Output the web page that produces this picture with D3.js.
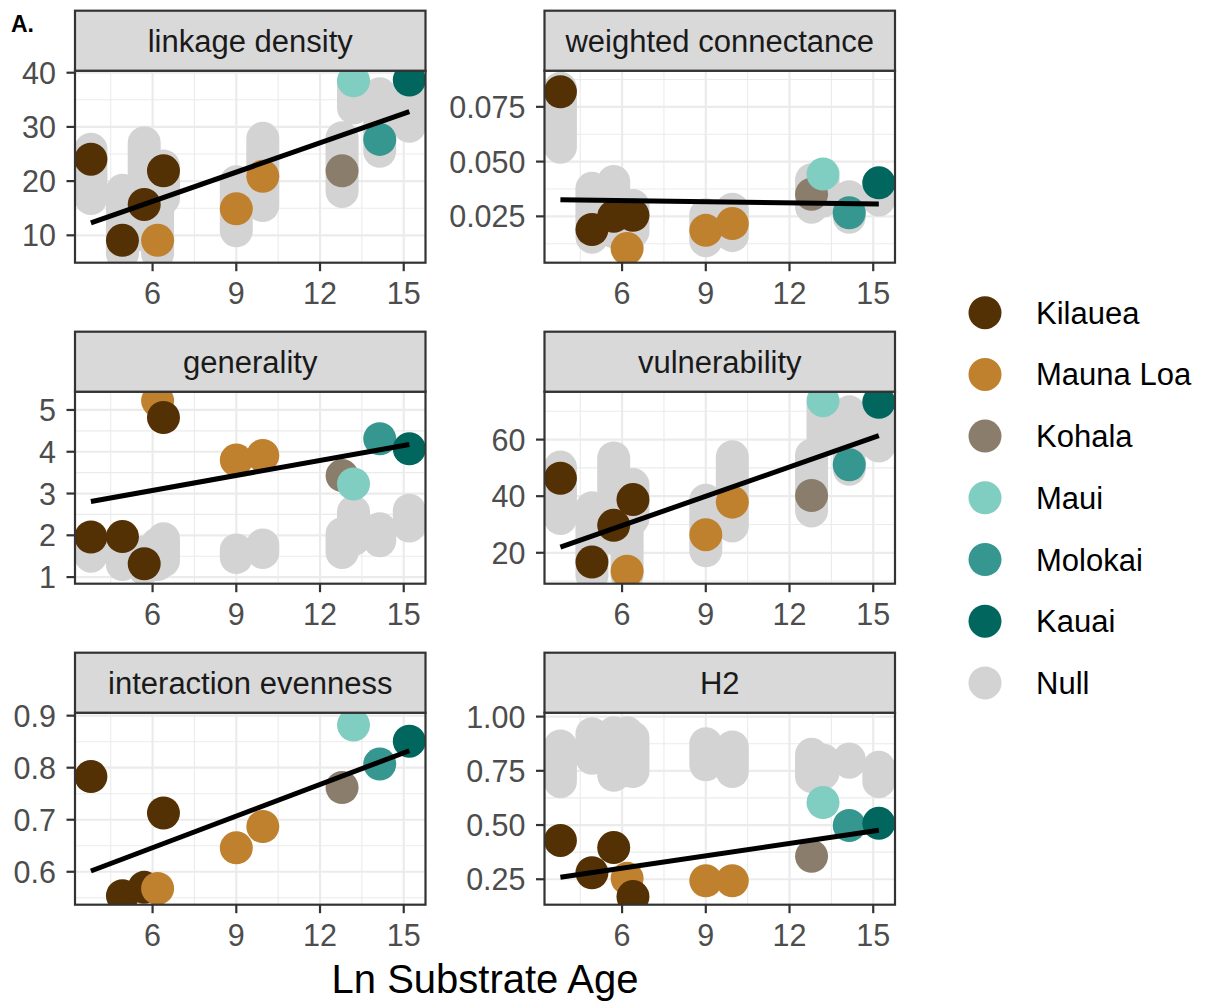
<!DOCTYPE html>
<html>
<head>
    <title>Network metrics vs substrate age</title>
    <script src="https://d3js.org/d3.v7.min.js"></script>
    <style>
        body { margin: 0; background: #fff; }
        text { font-family: "Liberation Sans", Arial, sans-serif; }
        .tick-label { font-size: 30.5px; fill: #4D4D4D; }
        .strip-label { font-size: 31px; fill: #1A1A1A; }
        .legend-label { font-size: 31px; fill: #000; }
    </style>
</head>
<body>
<script>
    // sites, ordered by ln substrate age
    var islands = ["Kilauea", "Mauna Loa", "Kohala", "Maui", "Molokai", "Kauai", "Null"];
    var islandColors = ["#543005", "#BF812D", "#8B7D6B", "#80CDC1", "#35978F", "#01665E", "#D3D3D3"];
    var siteIsland = ["Kilauea", "Kilauea", "Kilauea", "Mauna Loa", "Kilauea", "Mauna Loa", "Mauna Loa", "Kohala", "Maui", "Molokai", "Kauai"];
    var lnAge = [3.79, 4.92, 5.70, 6.18, 6.39, 9.0, 9.95, 12.79, 13.2, 14.14, 15.2];

    var metricNames = ["linkage density", "weighted connectance", "generality", "vulnerability", "interaction evenness", "H2"];

    // observed values
    var linkageDensity = [24.05, 9.07, 15.7, 9.07, 21.9, 14.9, 20.9, 21.9, 38.5, 27.7, 38.65];
    var weightedConnectance = [0.0819, 0.019, 0.025, 0.0103, 0.0255, 0.0186, 0.0217, 0.0351, 0.0443, 0.0266, 0.0403];
    var generality = [1.96, 1.97, 1.32, 5.22, 4.82, 3.80, 3.91, 3.43, 3.23, 4.31, 4.07];
    var vulnerability = [46.35, 16.7, 29.7, 13.5, 38.8, 26.4, 37.9, 40.25, 73.75, 51.1, 73.2];
    var interactionEvenness = [0.783, 0.554, 0.570, 0.568, 0.713, 0.646, 0.687, 0.762, 0.882, 0.807, 0.851];
    var h2 = [0.429, 0.280, 0.396, 0.254, 0.170, 0.243, 0.243, 0.356, 0.604, 0.498, 0.508];

    // null model ranges [low, high] per site
    var linkageNull = [[16.8, 25.9], [6.6, 18.3], [10, 27.1], [6.6, 16], [16.8, 22.8], [10.85, 19.9], [15.5, 27.9], [18.1, 28.0], [33.5, 38], [25.5, 36.1], [30.1, 38.7]];
    var connectanceNull = [[0.0566, 0.0835], [0.0155, 0.0378], [0.018, 0.0409], [0.012, 0.028], [0.018, 0.030], [0.0139, 0.0257], [0.0162, 0.0283], [0.0292, 0.0417], [0.032, 0.042], [0.0246, 0.034], [0.0325, 0.040]];
    var generalityNull = [[1.5, 1.9], [1.3, 1.9], [1.2, 1.6], [1.3, 1.8], [1.39, 1.92], [1.47, 1.65], [1.59, 1.77], [1.59, 2.04], [1.9, 2.56], [1.87, 2.16], [2.22, 2.60]];
    var vulnerabilityNull = [[32.1, 50.3], [12, 35.9], [25, 53.5], [12, 30], [32.1, 44.1], [20.7, 38.6], [29.5, 53.9], [34.8, 54.5], [60, 72], [49.5, 69.8], [57.7, 73.5]];
    var evennessNull = [];
    var h2Null = [[0.70, 0.865], [0.808, 0.921], [0.729, 0.925], [0.75, 0.925], [0.747, 0.903], [0.778, 0.875], [0.747, 0.86], [0.724, 0.826], [0.74, 0.80], [0.79, 0.804], [0.70, 0.766]];

    // axis ranges and ticks
    var xDomain = [3.22, 15.78];
    var xTicks = [6, 9, 12, 15];
    var xMinor = [4.5, 7.5, 10.5, 13.5];
    var yDomains = [[4.95, 40.37], [0.00384, 0.0915], [0.842, 5.437], [9.07, 76.93], [0.5367, 0.9057], [0.1326, 1.018]];
    var yTicks = [[10, 20, 30, 40], [0.025, 0.05, 0.075], [1, 2, 3, 4, 5], [20, 40, 60], [0.6, 0.7, 0.8, 0.9], [0.25, 0.5, 0.75, 1.0]];
    var yTickLabels = [["10", "20", "30", "40"], ["0.025", "0.050", "0.075"], ["1", "2", "3", "4", "5"], ["20", "40", "60"], ["0.6", "0.7", "0.8", "0.9"], ["0.25", "0.50", "0.75", "1.00"]];
    var yMinor = [[5, 15, 25, 35], [0.0125, 0.0375, 0.0625, 0.0875], [1.5, 2.5, 3.5, 4.5], [10, 30, 50, 70], [0.55, 0.65, 0.75, 0.85], [0.375, 0.625, 0.875]];

    var observed = [linkageDensity, weightedConnectance, generality, vulnerability, interactionEvenness, h2];
    var nulls = [linkageNull, connectanceNull, generalityNull, vulnerabilityNull, evennessNull, h2Null];

    var width = 1208, height = 1003;
    var colLeft = [75, 544.5], panelW = 350.5;
    var rowTop = [10.7, 331.7, 652.7], stripH = 60, panelH = 192;
    var r = 16.5;

    var color = d3.scaleOrdinal().domain(islands).range(islandColors);

    var svg = d3.select("body").append("svg")
        .attr("width", width)
        .attr("height", height);

    var defs = svg.append("defs");

    function lm(xs, ys) {
        var mx = d3.mean(xs), my = d3.mean(ys);
        var sxy = d3.sum(xs, function(x, i) { return (x - mx) * (ys[i] - my); });
        var sxx = d3.sum(xs, function(x) { return (x - mx) * (x - mx); });
        var b = sxy / sxx;
        return {slope: b, intercept: my - b * mx};
    }

    metricNames.forEach(function(name, m) {
        var col = m % 2, row = Math.floor(m / 2);
        var left = colLeft[col], top = rowTop[row] + stripH;

        var x = d3.scaleLinear().domain(xDomain).range([0, panelW]);
        var y = d3.scaleLinear().domain(yDomains[m]).range([panelH, 0]);

        var g = svg.append("g").attr("transform", "translate(" + left + "," + top + ")");

        defs.append("clipPath").attr("id", "clip" + m)
            .append("rect").attr("width", panelW).attr("height", panelH);

        // grid
        var grid = g.append("g");
        grid.selectAll(".xminor").data(xMinor).enter().append("line")
            .attr("x1", x).attr("x2", x).attr("y1", 0).attr("y2", panelH)
            .attr("stroke", "#EBEBEB").attr("stroke-width", 1.1);
        grid.selectAll(".yminor").data(yMinor[m].filter(function(v) { return v > yDomains[m][0] && v < yDomains[m][1]; })).enter().append("line")
            .attr("y1", y).attr("y2", y).attr("x1", 0).attr("x2", panelW)
            .attr("stroke", "#EBEBEB").attr("stroke-width", 1.1);
        grid.selectAll(".xmajor").data(xTicks).enter().append("line")
            .attr("x1", x).attr("x2", x).attr("y1", 0).attr("y2", panelH)
            .attr("stroke", "#EBEBEB").attr("stroke-width", 2.2);
        grid.selectAll(".ymajor").data(yTicks[m]).enter().append("line")
            .attr("y1", y).attr("y2", y).attr("x1", 0).attr("x2", panelW)
            .attr("stroke", "#EBEBEB").attr("stroke-width", 2.2);

        var plot = g.append("g").attr("clip-path", "url(#clip" + m + ")");

        // null ranges as stacked grey points
        plot.selectAll(".null").data(nulls[m]).enter().append("line")
            .attr("x1", function(d, i) { return x(lnAge[i]); })
            .attr("x2", function(d, i) { return x(lnAge[i]); })
            .attr("y1", function(d) { return y(d[0]); })
            .attr("y2", function(d) { return y(d[1]); })
            .attr("stroke", color("Null"))
            .attr("stroke-width", 2 * r)
            .attr("stroke-linecap", "round");

        // observed points
        plot.selectAll(".pt").data(observed[m]).enter().append("circle")
            .attr("cx", function(d, i) { return x(lnAge[i]); })
            .attr("cy", function(d) { return y(d); })
            .attr("r", r)
            .attr("fill", function(d, i) { return color(siteIsland[i]); });

        // linear fit
        var fit = lm(lnAge, observed[m]);
        var x0 = d3.min(lnAge), x1 = d3.max(lnAge);
        plot.append("line")
            .attr("x1", x(x0)).attr("y1", y(fit.intercept + fit.slope * x0))
            .attr("x2", x(x1)).attr("y2", y(fit.intercept + fit.slope * x1))
            .attr("stroke", "#000").attr("stroke-width", 5);

        // panel border
        g.append("rect").attr("width", panelW).attr("height", panelH)
            .attr("fill", "none").attr("stroke", "#333333").attr("stroke-width", 2.2);

        // strip
        g.append("rect").attr("y", -stripH).attr("width", panelW).attr("height", stripH)
            .attr("fill", "#D9D9D9").attr("stroke", "#333333").attr("stroke-width", 2.2);
        g.append("text").attr("class", "strip-label")
            .attr("x", panelW / 2).attr("y", -stripH + 41)
            .attr("text-anchor", "middle")
            .text(name);

        // y axis
        var ya = g.append("g");
        ya.selectAll("line").data(yTicks[m]).enter().append("line")
            .attr("x1", -8.5).attr("x2", 0).attr("y1", y).attr("y2", y)
            .attr("stroke", "#333333").attr("stroke-width", 2.2);
        ya.selectAll("text").data(yTicks[m]).enter().append("text")
            .attr("class", "tick-label")
            .attr("x", -19).attr("y", function(d) { return y(d) + 11; })
            .attr("text-anchor", "end")
            .text(function(d, i) { return yTickLabels[m][i]; });

        // x axis
        var xa = g.append("g").attr("transform", "translate(0," + panelH + ")");
        xa.selectAll("line").data(xTicks).enter().append("line")
            .attr("x1", x).attr("x2", x).attr("y1", 0).attr("y2", 8.5)
            .attr("stroke", "#333333").attr("stroke-width", 2.2);
        xa.selectAll("text").data(xTicks).enter().append("text")
            .attr("class", "tick-label")
            .attr("x", x).attr("y", 41)
            .attr("text-anchor", "middle")
            .text(function(d) { return d; });
    });

    // axis title
    svg.append("text")
        .attr("x", (colLeft[0] + colLeft[1] + panelW) / 2).attr("y", 993)
        .attr("text-anchor", "middle")
        .style("font-size", "40px").attr("fill", "#000")
        .text("Ln Substrate Age");

    // panel tag
    svg.append("text")
        .attr("x", 11).attr("y", 31.7)
        .style("font-size", "23px").style("font-weight", "bold").attr("fill", "#000")
        .text("A.");

    // legend
    var legend = svg.append("g").attr("transform", "translate(985,312.7)");
    var key = legend.selectAll("g").data(islands).enter().append("g")
        .attr("transform", function(d, i) { return "translate(0," + (i * 61.7) + ")"; });
    key.append("circle").attr("r", r).attr("fill", function(d) { return color(d); });
    key.append("text").attr("class", "legend-label")
        .attr("x", 51).attr("y", 11)
        .text(function(d) { return d; });
</script>
</body>
</html>
